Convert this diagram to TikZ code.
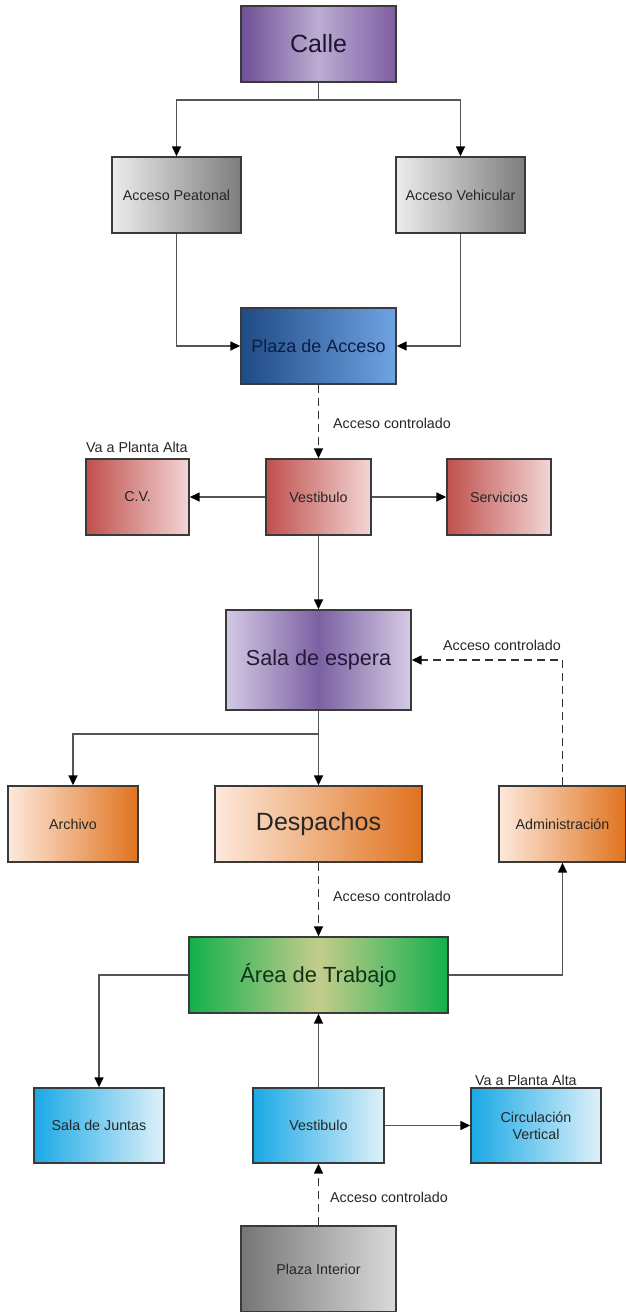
\documentclass[tikz,border=0pt]{standalone}
\usepackage{fontspec}
\setmainfont{Liberation Sans}
\usetikzlibrary{arrows.meta}

\definecolor{linegray}{HTML}{555555}
\definecolor{boxborder}{HTML}{3A3A3A}

\begin{document}
\begin{tikzpicture}[x=1pt,y=-1pt]
      \tikzstyle{arrow} = [draw=linegray, line width=1.5pt, -{Triangle[length=10pt,width=9pt,color=black]}]
      \tikzstyle{dasharrow} = [arrow, draw=black!80, dash pattern=on 8pt off 5pt]
      \tikzstyle{wire} = [draw=linegray, line width=1.5pt]
      \tikzstyle{blockbox} = [rectangle, draw=boxborder, line width=1.4pt, inner sep=2pt, align=center, text=black!85, font=\fontsize{14.3}{17}\selectfont]
      \tikzstyle{notetext} = [inner sep=0pt, text=black!85, font=\fontsize{14.3}{17}\selectfont]
      \tikzstyle{purplebox} = [blockbox, left color={rgb,255:red,111;green,79;blue,149}, right color={rgb,255:red,126;green,94;blue,163}, middle color={rgb,255:red,188;green,172;blue,210}]
      \tikzstyle{graybox} = [blockbox, left color={rgb,255:red,236;green,236;blue,236}, right color={rgb,255:red,125;green,125;blue,125}]
      \tikzstyle{bluebox} = [blockbox, left color={rgb,255:red,31;green,75;blue,133}, right color={rgb,255:red,111;green,163;blue,227}]
      \tikzstyle{redbox} = [blockbox, left color={rgb,255:red,192;green,80;blue,77}, right color={rgb,255:red,242;green,214;blue,213}]
      \tikzstyle{lilacbox} = [blockbox, left color={rgb,255:red,211;green,201;blue,227}, right color={rgb,255:red,213;green,203;blue,228}, middle color={rgb,255:red,124;green,97;blue,163}]
      \tikzstyle{orangebox} = [blockbox, left color={rgb,255:red,253;green,233;blue,220}, right color={rgb,255:red,224;green,115;blue,31}]
      \tikzstyle{greenbox} = [blockbox, left color={rgb,255:red,18;green,176;blue,76}, right color={rgb,255:red,18;green,176;blue,76}, middle color={rgb,255:red,196;green,204;blue,140}]
      \tikzstyle{cyanbox} = [blockbox, left color={rgb,255:red,26;green,169;blue,230}, right color={rgb,255:red,223;green,241;blue,249}]
      \tikzstyle{darkgraybox} = [blockbox, left color={rgb,255:red,118;green,118;blue,118}, right color={rgb,255:red,218;green,218;blue,218}]
      \useasboundingbox (0,0) rectangle (625,1312);
      % entrada
      \node (calle) [purplebox, minimum width=155pt, minimum height=76pt, text={rgb,255:red,30;green,21;blue,48}, font=\fontsize{25}{30}\selectfont] at (318.5,44) {Calle};
      \node (peatonal) [graybox, minimum width=129pt, minimum height=76pt] at (176.5,195) {Acceso Peatonal};
      \node (vehicular) [graybox, minimum width=129pt, minimum height=76pt] at (460.5,195) {Acceso Vehicular};
      \node (plaza-acceso) [bluebox, minimum width=155pt, minimum height=76pt, text={rgb,255:red,11;green,29;blue,69}, font=\fontsize{18}{22}\selectfont] at (318.5,346) {Plaza de Acceso};
      % planta baja
      \node (cv) [redbox, minimum width=103pt, minimum height=76pt] at (137.5,497) {C.V.};
      \node (vestibulo-A) [redbox, minimum width=105pt, minimum height=76pt] at (318.5,497) {Vestibulo};
      \node (servicios) [redbox, minimum width=104pt, minimum height=76pt] at (499,497) {Servicios};
      \node (sala-espera) [lilacbox, minimum width=185pt, minimum height=100pt, text={rgb,255:red,35;green,25;blue,55}, font=\fontsize{21.6}{26}\selectfont] at (318.5,660) {Sala de espera};
      \node (archivo) [orangebox, minimum width=130pt, minimum height=76pt] at (73,824) {Archivo};
      \node (despachos) [orangebox, minimum width=207pt, minimum height=76pt, font=\fontsize{25}{30}\selectfont] at (318.5,824) {Despachos};
      \node (admin) [orangebox, minimum width=127pt, minimum height=76pt] at (562.5,824) {Administración};
      \node (area) [greenbox, minimum width=259pt, minimum height=76pt, text={rgb,255:red,13;green,51;blue,24}, font=\fontsize{21.9}{26}\selectfont] at (318.5,975) {Área de Trabajo};
      \node (juntas) [cyanbox, minimum width=130pt, minimum height=75pt] at (99,1125.5) {Sala de Juntas};
      \node (vestibulo-B) [cyanbox, minimum width=131pt, minimum height=75pt] at (318.5,1125.5) {Vestibulo};
      \node (circulacion) [cyanbox, minimum width=130pt, minimum height=75pt] at (536,1125.5) {Circulación\\Vertical};
      \node (plaza-interior) [darkgraybox, minimum width=155pt, minimum height=86pt] at (318.5,1269) {Plaza Interior};
      % textos sueltos
      \node (planta-A) [notetext, anchor=west] at (86,447) {Va a Planta Alta};
      \node (planta-B) [notetext, anchor=west] at (475,1080) {Va a Planta Alta};
      \node (control-A) [notetext, anchor=west] at (333,423) {Acceso controlado};
      \node (control-B) [notetext, anchor=west] at (443,645) {Acceso controlado};
      \node (control-C) [notetext, anchor=west] at (333,896) {Acceso controlado};
      \node (control-D) [notetext, anchor=west] at (330,1197) {Acceso controlado};
      \coordinate (split-top) at (318.5,100);
      \coordinate (split-mid) at (318.5,734);
      % conexiones
      \draw [wire] (calle) -- (split-top);
      \draw [arrow] (split-top) -| (peatonal);
      \draw [arrow] (split-top) -| (vehicular);
      \draw [arrow] (peatonal) |- (plaza-acceso);
      \draw [arrow] (vehicular) |- (plaza-acceso);
      \draw [dasharrow] (plaza-acceso) -- (vestibulo-A);
      \draw [arrow] (vestibulo-A) -- (cv);
      \draw [arrow] (vestibulo-A) -- (servicios);
      \draw [arrow] (vestibulo-A) -- (sala-espera);
      \draw [wire] (sala-espera) -- (split-mid);
      \draw [arrow] (split-mid) -| (archivo);
      \draw [arrow] (split-mid) -- (despachos);
      \draw [dasharrow] (admin) |- (sala-espera);
      \draw [dasharrow] (despachos) -- (area);
      \draw [arrow] (area) -| (admin);
      \draw [arrow] (area) -| (juntas);
      \draw [arrow] (vestibulo-B) -- (area);
      \draw [arrow] (vestibulo-B) -- (circulacion);
      \draw [dasharrow] (plaza-interior) -- (vestibulo-B);
  \end{tikzpicture}
\end{document}
